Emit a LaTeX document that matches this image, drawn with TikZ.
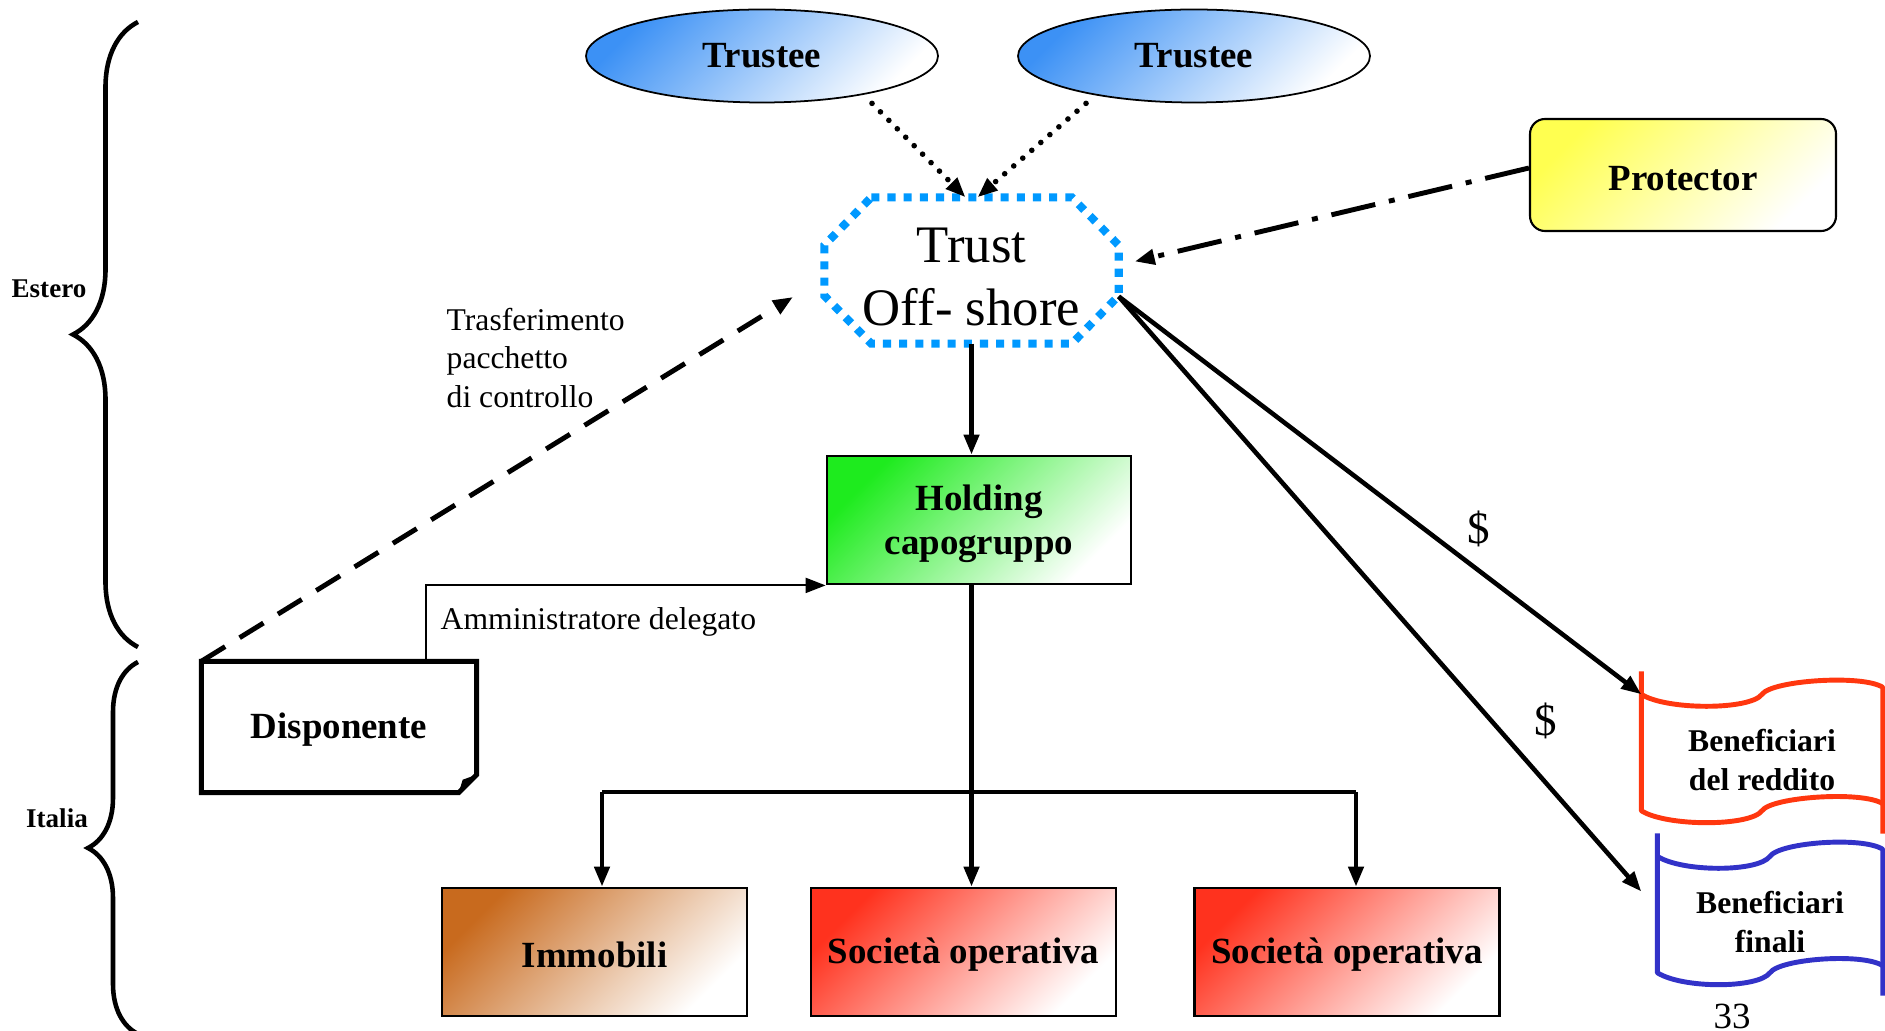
\documentclass[tikz,border=0pt]{standalone}
\usepackage{fontspec}
\setmainfont{Liberation Serif}
\usetikzlibrary{arrows.meta,shapes.geometric,decorations.pathreplacing}

\definecolor{trusteeblue}{RGB}{60,145,245}
\definecolor{protyellow}{RGB}{255,255,80}
\definecolor{holdgreen}{RGB}{30,235,30}
\definecolor{immbrown}{RGB}{200,106,30}
\definecolor{socred}{RGB}{255,50,30}
\definecolor{trustblue}{RGB}{0,153,255}
\definecolor{flagred}{RGB}{255,55,15}
\definecolor{flagblue}{RGB}{50,50,200}

\tikzset{
    grad/.style={top color=#1, bottom color=white, shading angle=45},
    bold/.style={font=\bfseries\fontsize{10.5}{12.6}\selectfont, align=center},
    oneline/.style={text height=8.8pt},
    box/.style={bold, draw=black, line width=0.8pt, minimum width=3.05cm, minimum height=1.28cm, inner sep=0pt},
    trustee/.style={bold, ellipse, draw=black, line width=0.5pt, minimum width=3.52cm, minimum height=0.93cm, inner sep=0pt, grad=trusteeblue},
    protector/.style={bold, oneline, draw=black, line width=0.6pt, rounded corners=0.15cm, minimum width=3.06cm, minimum height=1.12cm, inner sep=0pt, grad=protyellow},
    trustbox/.style={font=\fontsize{15}{17.9}\selectfont, align=center, text height=31.2pt, text depth=0pt, minimum width=2.93cm, minimum height=1.45cm, inner sep=0pt},
    flag/.style={font=\bfseries\fontsize{9}{10.9}\selectfont, align=center, text height=21.5pt, text depth=0pt, minimum height=1.15cm, inner sep=0pt},
    note/.style={font=\fontsize{9}{10.95}\selectfont, align=left, inner sep=0pt},
    region/.style={font=\bfseries\fontsize{7.7}{9}\selectfont, inner sep=0pt},
    thickline/.style={line width=1.3pt, color=black},
    thinline/.style={line width=0.6pt, color=black},
    dots/.style={line width=1.6pt, line cap=round, dash pattern=on 0pt off 3.4pt},
    dashline/.style={line width=1.4pt, dash pattern=on 0.28cm off 0.17cm},
    dashdot/.style={line width=1.4pt, dash pattern=on 0.45cm off 0.14cm on 0.06cm off 0.14cm},
    bracestyle/.style={line width=1.3pt, decorate}
}

\begin{document}
\begin{tikzpicture}[>={Triangle[length=0.2cm,width=0.15cm]}]
    \useasboundingbox (0,0) rectangle (18.85,10.30);

    %Braces Estero / Italia
    \draw[bracestyle, decoration={brace, amplitude=0.65cm}] (1.38,3.83) -- (1.38,10.08);
    \draw[bracestyle, decoration={brace, amplitude=0.5cm}] (1.38,-0.04) -- (1.38,3.68);
    \node[region] (estero) at (0.49,7.41) {Estero};
    \node[region] (italia) at (0.57,2.12) {Italia};

    %Nodes
    \node[trustee] (trustee1) at (7.62,9.74) {Trustee};
    \node[trustee] (trustee2) at (11.94,9.74) {Trustee};
    \node[protector] (protector) at (16.83,8.55) {Protector};
    \node[trustbox] (trust) at (9.715,7.595) {Trust\\Off- shore};
    \draw[color=trustblue, line width=2.3pt, dash pattern=on 2.3pt off 2.3pt]
        ([xshift=0.47cm]trust.north west) -- ([xshift=-0.47cm]trust.north east)
        -- ([yshift=-0.48cm]trust.north east) -- ([yshift=0.48cm]trust.south east)
        -- ([xshift=-0.47cm]trust.south east) -- ([xshift=0.47cm]trust.south west)
        -- ([yshift=0.48cm]trust.south west) -- ([yshift=-0.48cm]trust.north west) -- cycle;
    \node[box, grad=holdgreen, minimum width=3.04cm, text depth=-0.5pt] (holding) at (9.79,5.10) {Holding\\capogruppo};
    \node[box, oneline, grad=immbrown] (immobili) at (5.945,0.78) {Immobili};
    \node[box, oneline, grad=socred] (soc1) at (9.635,0.78) {Società operativa};
    \node[box, oneline, grad=socred] (soc2) at (13.47,0.78) {Società operativa};
    \node[bold, oneline, minimum width=2.74cm, minimum height=1.30cm, inner sep=0pt] (disponente) at (3.39,3.03) {Disponente};
    \draw[line width=1.4pt, line join=miter] (disponente.north west) -- (disponente.north east)
        -- ([yshift=0.18cm]disponente.south east) -- ([xshift=-0.18cm]disponente.south east)
        -- (disponente.south west) -- cycle;
    \fill ([yshift=0.18cm]disponente.south east) -- ([xshift=-0.18cm]disponente.south east)
        -- ([xshift=-0.14cm,yshift=0.13cm]disponente.south east) -- cycle;
    \node[flag, minimum width=2.40cm] (benred) at (17.62,2.775) {Beneficiari\\del reddito};
    \node[flag, minimum width=2.24cm] (benfin) at (17.70,1.155) {Beneficiari\\finali};

    %Wavy outlines of the two flags
    \foreach \n/\c in {benred/flagred, benfin/flagblue} {
        \draw[line width=1.4pt, line join=round, color=\c] ([yshift=0.23cm]\n.north west) -- (\n.south west)
            .. controls +(0.25,-0.16) and +(-0.12,-0.16) .. (\n.south)
            .. controls +(0.1,0.14) and +(-0.2,0.13) .. ([yshift=0.07cm]\n.south east);
        \draw[line width=1.4pt, line join=round, color=\c] (\n.north west)
            .. controls +(0.25,-0.16) and +(-0.12,-0.16) .. (\n.north)
            .. controls +(0.1,0.14) and +(-0.2,0.13) .. ([yshift=0.07cm]\n.north east)
            -- ([yshift=-0.23cm]\n.south east);
    }

    %Labels
    \node[note, anchor=west] (transfertext) at (4.46,6.72) {Trasferimento\\pacchetto\\di controllo};
    \node[note, anchor=west] (ammtext) at (4.40,4.08) {Amministratore delegato};
    \node[font=\fontsize{12.8}{14}\selectfont] (dollar1) at (14.79,5.01) {\$};
    \node[font=\fontsize{12.8}{14}\selectfont] (dollar2) at (15.46,3.09) {\$};
    \node[font=\fontsize{10.5}{12}\selectfont] (pagenum) at (17.32,0.14) {33};

    %Connectors
    \coordinate (transfer) at (7.93,7.33);
    \coordinate (barleft) at (6.02,2.38);
    \coordinate (barright) at (13.56,2.38);
    \draw[dots, ->] ([xshift=1.10cm]trustee1.south) -- ([xshift=-0.06cm]trust.north);
    \draw[dots, ->] ([xshift=-1.08cm]trustee2.south) -- ([xshift=0.06cm]trust.north);
    \draw[dashdot, ->] ([yshift=0.07cm]protector.west) -- ([xshift=0.16cm,yshift=0.09cm]trust.east);
    \draw[dashline, ->] (disponente.north west) -- (transfer);
    \draw[thinline, ->] ([xshift=0.87cm]disponente.north) |- (holding.south west);
    \draw[thickline, ->] (trust.south) -- (trust.south |- holding.north);
    \draw[thickline, ->] (trust.south |- holding.south) -- (trust.south |- soc1.north);
    \draw[thickline] (barleft) -- (barright);
    \draw[thickline, ->] (barleft) -- (barleft |- immobili.north);
    \draw[thickline, ->] (barright) -- (barright |- soc2.north);
    \draw[thickline, ->] ([yshift=-0.26cm]trust.east) -- (benred.north west);
    \draw[thickline, ->] ([yshift=-0.26cm]trust.east) -- ([xshift=-0.16cm,yshift=0.23cm]benfin.west);
\end{tikzpicture}
\end{document}
